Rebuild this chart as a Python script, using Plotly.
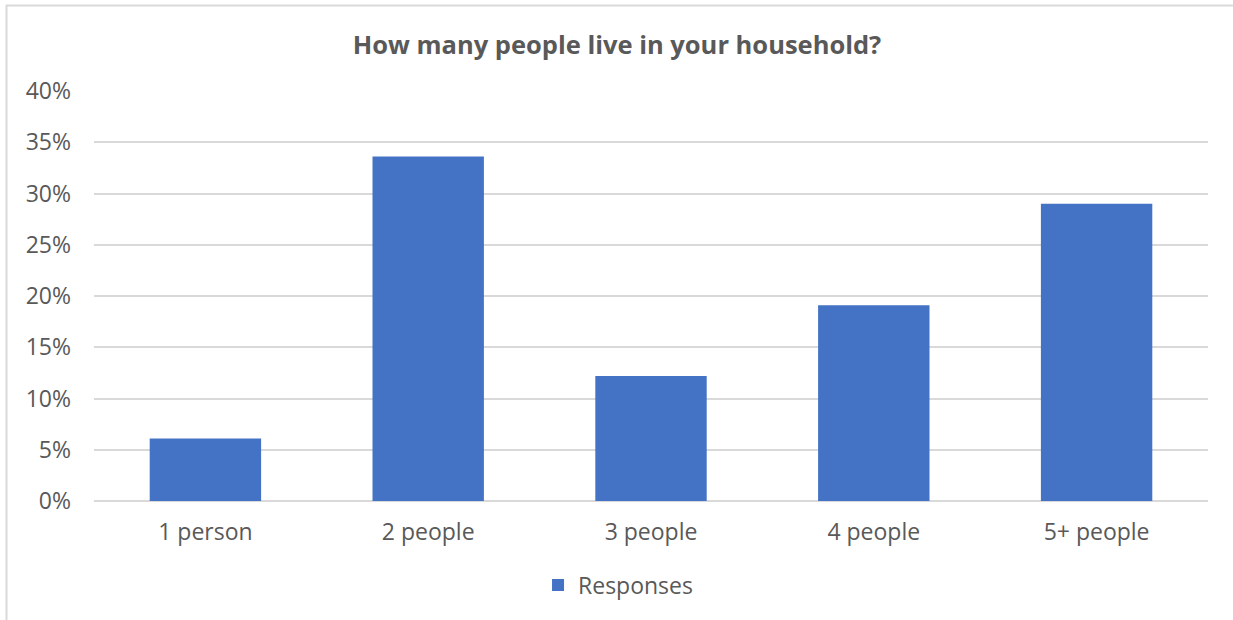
import plotly.graph_objects as go

categories = ["1 person", "2 people", "3 people", "4 people", "5+ people"]
responses = [0.061, 0.336, 0.122, 0.191, 0.290]
tick_values = [0, 0.05, 0.10, 0.15, 0.20, 0.25, 0.30, 0.35, 0.40]
tick_labels = ["0%", "5%", "10%", "15%", "20%", "25%", "30%", "35%", "40%"]

W, H = 1233, 620
L, R, T, B = 94, 25, 91, 119
pw, ph = W - L - R, H - T - B

fig = go.Figure()
fig.add_trace(go.Bar(
    x=categories, y=responses, name="Responses",
    marker=dict(color="#4472C4", line=dict(width=0)),
    showlegend=True,
))

# outer chart frame (left and top edges visible)
fx0 = (6.5 - L) / pw
fy1 = 1 + (T - 5.5) / ph
fig.add_shape(type="rect", xref="paper", yref="paper",
              x0=fx0, x1=1.2, y0=-0.6, y1=fy1,
              line=dict(color="#D9D9D9", width=2), layer="below")

fig.update_layout(
    width=W, height=H,
    margin=dict(l=L, r=R, t=T, b=B, autoexpand=False),
    paper_bgcolor="white", plot_bgcolor="white",
    font=dict(family="Open Sans", color="#595959", size=23),
    title=dict(text="<b>How many people live in your household?</b>",
               x=617 / W, xanchor="center", y=1 - 45 / H, yanchor="middle",
               font=dict(size=25.5, color="#595959", family="Open Sans")),
    bargap=0.5,
    xaxis=dict(showgrid=False, showline=False, ticks="", tickfont=dict(size=23),
               ticklabelstandoff=15),
    yaxis=dict(range=[0, 0.40], tickvals=tick_values, ticktext=tick_labels,
               showgrid=True, gridcolor="#D9D9D9", gridwidth=1.5,
               zeroline=True, zerolinecolor="#D9D9D9", zerolinewidth=1.5,
               showline=False, ticks="", tickfont=dict(size=23),
               ticklabelstandoff=22),
    legend=dict(orientation="h", x=0.4704, xanchor="center",
                y=-(585 - (T + ph)) / ph, yanchor="middle",
                font=dict(size=23, color="#595959"),
                itemwidth=30),
)

fig.write_html("out.html")
